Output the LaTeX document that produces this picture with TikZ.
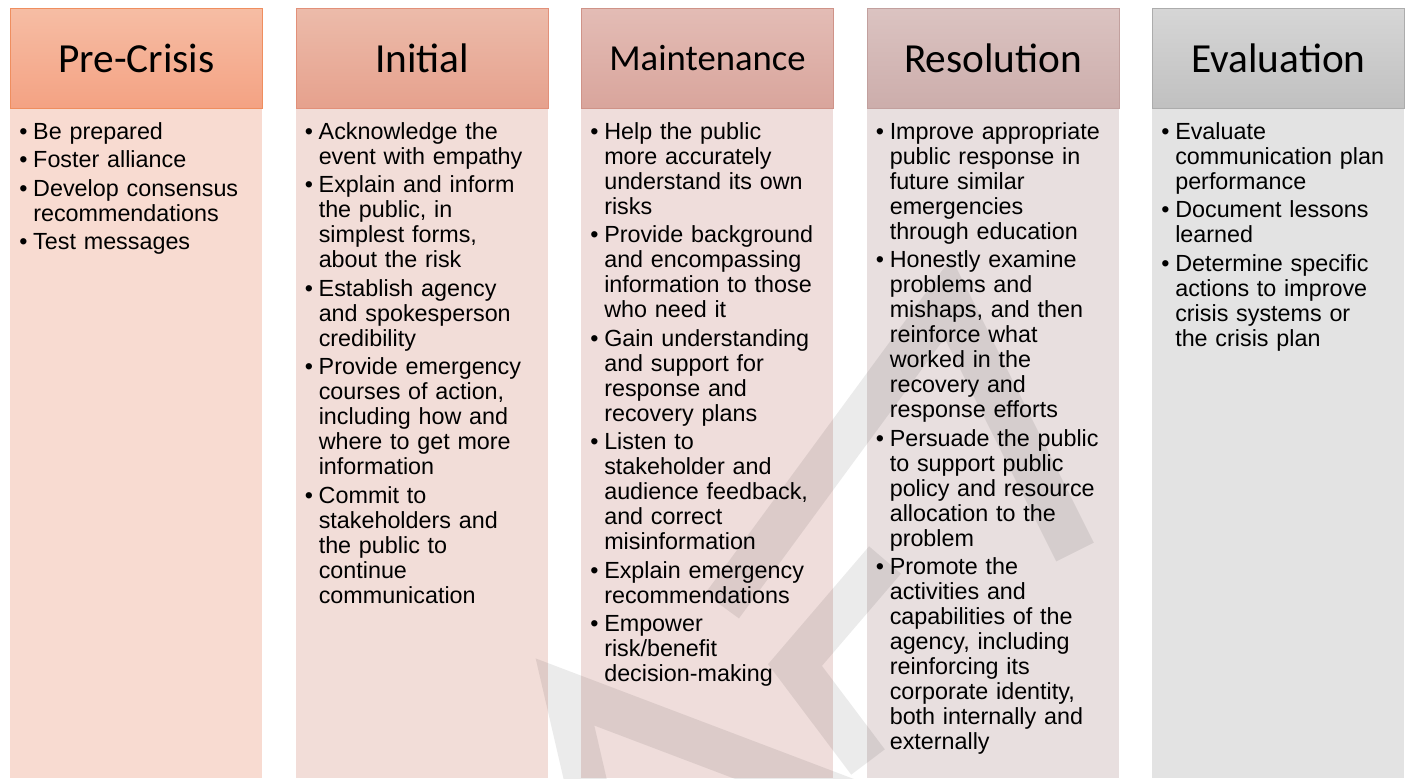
\documentclass[tikz,border=0pt]{standalone}
\usepackage{fontspec}
\setmainfont{Liberation Sans}
\newfontfamily\headfont{Carlito}
\usetikzlibrary{positioning}
\usepackage{xcolor}

\definecolor{tpA}{HTML}{F6BDA4}\definecolor{btA}{HTML}{F4A283}\definecolor{brA}{HTML}{EF8E5F}\definecolor{bdA}{HTML}{F8DBD1}
\definecolor{tpB}{HTML}{ECBBAA}\definecolor{btB}{HTML}{E6A18D}\definecolor{brB}{HTML}{E29079}\definecolor{bdB}{HTML}{F2DDD8}
\definecolor{tpC}{HTML}{E3BCB5}\definecolor{btC}{HTML}{D9A59C}\definecolor{brC}{HTML}{CF9388}\definecolor{bdC}{HTML}{EFDDDB}
\definecolor{tpD}{HTML}{DBC3C1}\definecolor{btD}{HTML}{CCADAB}\definecolor{brD}{HTML}{C2A09E}\definecolor{bdD}{HTML}{E8DFDF}
\definecolor{tpE}{HTML}{D6D6D6}\definecolor{btE}{HTML}{C0C0C0}\definecolor{brE}{HTML}{ACACAC}\definecolor{bdE}{HTML}{E3E3E3}

\newlength{\bulw}\setlength{\bulw}{10.5pt}
\newcommand{\itemfont}{\fontsize{17.5}{18.75}\selectfont\setlength{\parskip}{2.6pt}}
\newcommand{\bul}{\par\hangindent=\bulw\hangafter=1\noindent\makebox[\bulw][l]{\textbullet}\rule{0pt}{14pt}}
\def\colsep{285.5}

\begin{document}
\begin{tikzpicture}[x=0.75pt,y=-0.75pt]
    \tikzstyle{head}=[draw, line width=0.75pt, minimum width=189pt, minimum height=75pt, anchor=north west, inner sep=0pt, text=black]
    \tikzstyle{body}=[anchor=north west, minimum width=189pt, minimum height=502.5pt, inner sep=0pt]
    \tikzstyle{items}=[anchor=north west, text width=180pt, inner sep=0pt, font=\itemfont]
    \tikzstyle{wm}=[draw=black, opacity=0.08, line width=31.5pt, line join=miter]

    \useasboundingbox (0,0) rectangle (1408,778);

	\foreach \i/\c/\t/\s in {0/A/Pre-Crisis/31, 1/B/Initial/31, 2/C/Maintenance/27.5, 3/D/Resolution/31, 4/E/Evaluation/31}{
		\pgfmathsetmacro\x{10+\i*\colsep}
		\node[body, fill=bd\c] (B-\i) at (\x,108) {};
		\node[head, draw=br\c, top color=tp\c, bottom color=bt\c, font=\headfont\fontsize{\s}{\s}\selectfont] (H-\i) at (\x,8) {\t};
	}

	\node[items] (T-0) at ([shift={(9,2.7)}]B-0.north west) {%
		\bul Be prepared
		\bul Foster alliance
		\bul Develop consensus\newline recommendations
		\bul Test messages\par};
	\node[items] (T-1) at ([shift={(9,2.7)}]B-1.north west) {%
		\bul Acknowledge the\newline event with empathy
		\bul Explain and inform\newline the public, in\newline simplest forms,\newline about the risk
		\bul Establish agency\newline and spokesperson\newline credibility
		\bul Provide emergency\newline courses of action,\newline including how and\newline where to get more\newline information
		\bul Commit to\newline stakeholders and\newline the public to\newline continue\newline communication\par};
	\node[items] (T-2) at ([shift={(9,2.7)}]B-2.north west) {%
		\bul Help the public\newline more accurately\newline understand its own\newline risks
		\bul Provide background\newline and encompassing\newline information to those\newline who need it
		\bul Gain understanding\newline and support for\newline response and\newline recovery plans
		\bul Listen to\newline stakeholder and\newline audience feedback,\newline and correct\newline misinformation
		\bul Explain emergency\newline recommendations
		\bul Empower\newline risk/benefit\newline decision-making\par};
	\node[items] (T-3) at ([shift={(9,2.7)}]B-3.north west) {%
		\bul Improve appropriate\newline public response in\newline future similar\newline emergencies\newline through education
		\bul Honestly examine\newline problems and\newline mishaps, and then\newline reinforce what\newline worked in the\newline recovery and\newline response efforts
		\bul Persuade the public\newline to support public\newline policy and resource\newline allocation to the\newline problem
		\bul Promote the\newline activities and\newline capabilities of the\newline agency, including\newline reinforcing its\newline corporate identity,\newline both internally and\newline externally\par};
	\node[items] (T-4) at ([shift={(9,2.7)}]B-4.north west) {%
		\bul Evaluate\newline communication plan\newline performance
		\bul Document lessons\newline learned
		\bul Determine specific\newline actions to improve\newline crisis systems or\newline the crisis plan\par};

%	watermark
	\draw[wm] (1075,552) -- (948,298) -- (722,606);
	\draw[wm] (885,560) -- (795,665) -- (868,762);
	\draw[wm] (590,800) -- (565,692) -- (850,800);
\end{tikzpicture}
\end{document}
